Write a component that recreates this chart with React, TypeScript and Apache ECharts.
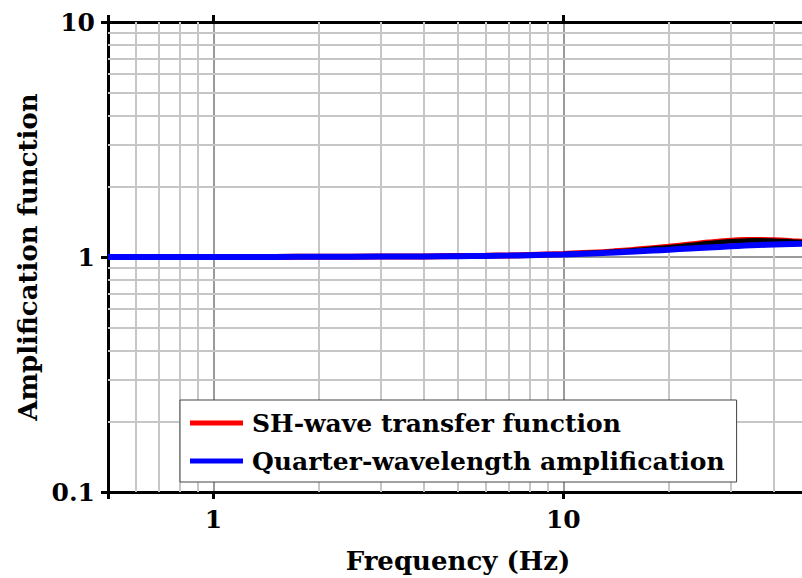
import React, { useEffect, useRef } from "react";
import * as echarts from "echarts";

const frequencies = [0.5, 0.7, 1, 1.5, 2, 3, 4, 5, 6, 7, 8, 10, 12, 14, 16, 18, 20, 23, 26, 30, 33, 36, 40, 45, 50];
const shWaveTransfer = [1.0, 1.0, 1.0, 1.001, 1.002, 1.004, 1.006, 1.009, 1.012, 1.016, 1.021, 1.031, 1.043, 1.057, 1.073, 1.09, 1.106, 1.13, 1.152, 1.172, 1.18, 1.182, 1.178, 1.168, 1.158];
const shWaveBlack = [1.0, 1.0, 1.0, 1.001, 1.002, 1.004, 1.006, 1.009, 1.012, 1.016, 1.021, 1.031, 1.042, 1.055, 1.07, 1.086, 1.101, 1.124, 1.146, 1.166, 1.174, 1.177, 1.174, 1.165, 1.156];
const quarterWavelength = [1.0, 1.0, 1.0, 1.001, 1.002, 1.004, 1.006, 1.008, 1.011, 1.014, 1.018, 1.026, 1.035, 1.045, 1.055, 1.065, 1.074, 1.087, 1.098, 1.11, 1.118, 1.124, 1.13, 1.136, 1.14];
const xMinorGrid = [0.6, 0.7, 0.8, 0.9, 2, 3, 4, 5, 6, 7, 8, 9, 20, 30, 40];
const yMinorGrid = [0.2, 0.3, 0.4, 0.5, 0.6, 0.7, 0.8, 0.9, 2, 3, 4, 5, 6, 7, 8, 9];
const legendNames = ["SH-wave transfer function", "Quarter-wavelength amplification"];

const FONT = "DejaVu Serif";

const isPow10 = (v: number) => {
  const l = Math.log10(v);
  return Math.abs(l - Math.round(l)) < 1e-6;
};

export default function App() {
  const ref = useRef<HTMLDivElement>(null);
  useEffect(() => {
    document.body.style.margin = "0";
    const chart = echarts.init(ref.current!, null, { renderer: "svg" });
    const zip = (ys: number[]) => frequencies.map((f, i) => [f, ys[i]]);
    const axisLine = { show: true, lineStyle: { color: "#000", width: 3 } };
    const tick = { show: true, inside: false, length: 7, lineStyle: { color: "#000", width: 3 } };
    const majorSplit = { show: true, lineStyle: { color: "#9a9a9a", width: 2, type: "solid" } };
    const labelStyle = { fontFamily: FONT, fontWeight: "bold", fontSize: 25, color: "#000" };
    chart.setOption({
      animation: false,
      backgroundColor: "#fff",
      grid: { left: 108, top: 22, width: 700, bottom: 86, containLabel: false, outerBoundsMode: "none" },
      xAxis: [
        {
          type: "log", logBase: 10, min: 0.5, max: 50,
          name: "Frequency (Hz)", nameLocation: "middle", nameGap: 56,
          nameTextStyle: { fontFamily: FONT, fontWeight: "bold", fontSize: 26, color: "#000" },
          axisLine, axisTick: tick, splitLine: majorSplit,
          axisLabel: { ...labelStyle, margin: 15, formatter: (v: number) => (isPow10(v) ? String(v) : "") },
        },
        {
          type: "log", logBase: 10, min: 0.5, max: 50, position: "top",
          axisLine, axisTick: tick, splitLine: { show: false }, axisLabel: { show: false },
        },
      ],
      yAxis: [
        {
          type: "log", logBase: 10, min: 0.1, max: 10,
          name: "Amplification function", nameLocation: "middle", nameGap: 66,
          nameTextStyle: { fontFamily: FONT, fontWeight: "bold", fontSize: 26, color: "#000" },
          axisLine, axisTick: tick, splitLine: majorSplit,
          axisLabel: { ...labelStyle, margin: 13, formatter: (v: number) => (isPow10(v) ? String(v) : "") },
        },
        {
          type: "log", logBase: 10, min: 0.1, max: 10, position: "right",
          axisLine, axisTick: tick, splitLine: { show: false }, axisLabel: { show: false },
        },
      ],
      legend: {
        data: legendNames,
        orient: "vertical",
        left: 180, top: 400,
        padding: [8, 12, 6, 10],
        itemGap: 8,
        itemWidth: 53, itemHeight: 5,
        icon: "rect",
        itemStyle: { borderWidth: 0 },
        backgroundColor: "#fff",
        borderColor: "#444", borderWidth: 1, borderRadius: 0,
        z: 10,
        textStyle: { fontFamily: FONT, fontWeight: "bold", fontSize: 25, color: "#000", lineHeight: 30, padding: [0, 0, 0, 4] },
      },
      series: [
        {
          name: "grid-minor", type: "line", data: [], z: 1, silent: true,
          markLine: {
            z: 1,
            silent: true, symbol: ["none", "none"], label: { show: false },
            lineStyle: { color: "#c6c6c6", width: 2, type: "solid" },
            emphasis: { disabled: true },
            data: [
              ...xMinorGrid.map((v) => ({ xAxis: v })),
              ...yMinorGrid.map((v) => ({ yAxis: v })),
            ],
          },
        },
        {
          name: legendNames[0], type: "line", data: zip(shWaveTransfer), smooth: true,
          showSymbol: false, color: "#ff0000", lineStyle: { width: 6, color: "#ff0000" }, z: 3,
        },
        {
          name: "SH-wave (black)", type: "line", data: zip(shWaveBlack), smooth: true,
          showSymbol: false, color: "#000", lineStyle: { width: 4.5, color: "#000" }, z: 4,
        },
        {
          name: legendNames[1], type: "line", data: zip(quarterWavelength), smooth: true,
          showSymbol: false, color: "#0000ff", lineStyle: { width: 6, color: "#0000ff" }, z: 5,
        },
      ],
    });
    return () => chart.dispose();
  }, []);
  return <div ref={ref} style={{ width: 802, height: 578 }} />;
}
